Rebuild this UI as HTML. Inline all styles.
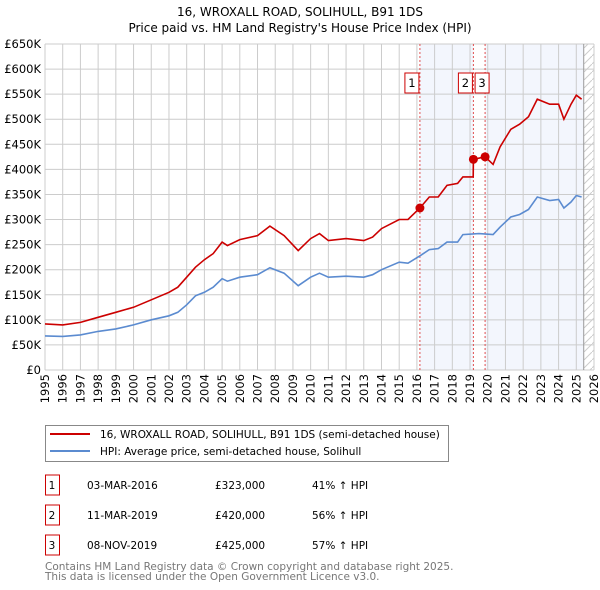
<!DOCTYPE html>
<html><head><meta charset="utf-8"><style>
body{margin:0;background:#fff;width:600px;height:590px;overflow:hidden;font-family:"DejaVu Sans","Liberation Sans",sans-serif;}
svg{position:absolute;left:0;top:0}
text{font-family:"DejaVu Sans","Liberation Sans",sans-serif;}
</style></head><body>
<svg id="c" width="600" height="590"></svg>
<script>
const hpiYears=[1995,1996,1997,1998,1999,2000,2001,2002,2002.5,2003,2003.5,2004,2004.5,2005,2005.3,2006,2007,2007.7,2008.5,2009.3,2010,2010.5,2011,2012,2013,2013.5,2014,2015,2015.5,2016.2,2016.7,2017.2,2017.7,2018.3,2018.6,2019.5,2020.3,2020.7,2021.3,2021.8,2022.3,2022.8,2023.5,2024,2024.3,2024.7,2025,2025.3];
const hpiValues=[68,67,70,77,82,90,100,108,115,130,148,155,165,182,177,185,190,204,193,168,185,193,185,187,185,190,200,215,213,228,240,242,255,255,270,272,270,285,305,310,320,345,338,340,323,335,348,345];
const propYears=[1995,1996,1997,1998,1999,2000,2001,2002,2002.5,2003,2003.5,2004,2004.5,2005,2005.3,2006,2007,2007.7,2008.5,2009.3,2010,2010.5,2011,2012,2013,2013.5,2014,2015,2015.5,2016.17,2016.7,2017.2,2017.7,2018.3,2018.6,2019.18,2019.19,2019.85,2020.3,2020.7,2021.3,2021.8,2022.3,2022.8,2023.5,2024,2024.3,2024.7,2025,2025.3];
const propValues=[92,90,95,105,115,125,140,155,165,185,205,220,232,255,248,260,268,287,268,238,262,272,258,262,258,265,282,300,300,323,345,345,368,372,385,385,420,425,410,445,480,490,505,540,530,530,500,530,548,540];
const saleYears=[2016.17,2019.19,2019.85];
const saleValues=[323,420,425];
const saleLabels=["1","2","3"];
const yTicks=[0,50,100,150,200,250,300,350,400,450,500,550,600,650];
const xTicks=[1995,1996,1997,1998,1999,2000,2001,2002,2003,2004,2005,2006,2007,2008,2009,2010,2011,2012,2013,2014,2015,2016,2017,2018,2019,2020,2021,2022,2023,2024,2025,2026];
const L=45,R=594,T=44,B=370;
const X=y=>L+(y-1995)*(R-L)/31;
const Y=v=>B-v*(B-T)/650;
const s=document.getElementById('c');const NS='http://www.w3.org/2000/svg';
function el(t,a,p){const e=document.createElementNS(NS,t);for(const k in a)e.setAttribute(k,a[k]);(p||s).appendChild(e);return e;}
let t=el('text',{x:300,y:16,'text-anchor':'middle','font-size':'12'});t.textContent='16, WROXALL ROAD, SOLIHULL, B91 1DS';

t=el('text',{x:300,y:32,'text-anchor':'middle','font-size':'12'});t.textContent="Price paid vs. HM Land Registry's House Price Index (HPI)";

const end=2025.42;
let r=el('rect',{x:X(saleYears[0]),y:T,width:X(saleYears[1])-X(saleYears[0]),height:B-T,fill:'#f3f6fd'});

r=el('rect',{x:X(saleYears[2]),y:T,width:X(end)-X(saleYears[2]),height:B-T,fill:'#f3f6fd'});

const defs=el('defs',{});const pat=el('pattern',{id:'h',width:8,height:8,patternUnits:'userSpaceOnUse'},defs);
el('path',{d:'M0,8 L8,0',stroke:'#ccc','stroke-width':1},pat);
r=el('rect',{x:X(end),y:T,width:R-X(end),height:B-T,fill:'url(#h)'});

yTicks.forEach(v=>{const g=el('line',{x1:L,x2:R,y1:Y(v),y2:Y(v),stroke:'#ccc'});

const tx=el('text',{x:L-4,y:Y(v)+4,'text-anchor':'end','font-size':'11.5'});tx.textContent='£'+(v?v+'K':'0');
});
xTicks.forEach(v=>{const g=el('line',{x1:X(v),x2:X(v),y1:T,y2:B,stroke:'#ccc'});

const tx=el('text',{x:0,y:0,'text-anchor':'end','font-size':'11.5',transform:`translate(${X(v)+4},374) rotate(-90)`});tx.textContent=v;
});
let ln=el('line',{x1:X(end),x2:X(end),y1:T,y2:B,stroke:'#999'});

saleYears.forEach((y,i)=>{const l=el('line',{x1:X(y),x2:X(y),y1:T,y2:B,stroke:'#e05050','stroke-dasharray':'2,2','stroke-width':1});

const bxl=i==2?X(y)-10:X(y)-15;
const rc=el('rect',{x:bxl,y:73,width:14,height:20,fill:'#fff',stroke:'#c00'});

const tx=el('text',{x:bxl+7,y:87,'text-anchor':'middle','font-size':'11.5'});tx.textContent=saleLabels[i];
});
function path(xs,vs,c,n){const d=xs.map((x,i)=>(i?'L':'M')+X(x).toFixed(1)+','+Y(vs[i]).toFixed(1)).join('');
const p=el('path',{d:d,fill:'none',stroke:c,'stroke-width':1.6});}
path(hpiYears,hpiValues,'#5b8bd0','hpi-line');
path(propYears,propValues,'#cc0000','price-line');
saleYears.forEach((y,i)=>{const c=el('circle',{cx:X(y),cy:Y(saleValues[i]),r:4.5,fill:'#cc0000'});
});
const lg=el('g',{});
el('rect',{x:45.5,y:425.5,width:403,height:36,fill:'#fff',stroke:'#888'},lg);
el('line',{x1:50,x2:90,y1:434,y2:434,stroke:'#cc0000','stroke-width':2},lg);
el('line',{x1:50,x2:90,y1:451,y2:451,stroke:'#5b8bd0','stroke-width':2},lg);
t=el('text',{x:100,y:438,'font-size':'10.5'},lg);t.textContent='16, WROXALL ROAD, SOLIHULL, B91 1DS (semi-detached house)';

t=el('text',{x:100,y:455,'font-size':'10.5'},lg);t.textContent='HPI: Average price, semi-detached house, Solihull';

const rows=[["1","03-MAR-2016","£323,000","41% ↑ HPI"],["2","11-MAR-2019","£420,000","56% ↑ HPI"],["3","08-NOV-2019","£425,000","57% ↑ HPI"]];
rows.forEach((rw,i)=>{const y=483+i*30;
const b=el('rect',{x:45.5,y:y-8,width:14,height:20,fill:'#fff',stroke:'#c00'});
[[52,'middle'],[87,'start'],[215,'start'],[312,'start']].forEach((c,j)=>{const tx=el('text',{x:c[0],y:y+6,'text-anchor':c[1],'font-size':'10.5'});tx.textContent=rw[j];
});});
t=el('text',{x:45,y:570,'font-size':'10.5',fill:'#777'});t.textContent='Contains HM Land Registry data © Crown copyright and database right 2025.';

t=el('text',{x:45,y:580,'font-size':'10.5',fill:'#777'});t.textContent='This data is licensed under the Open Government Licence v3.0.';

</script>
</body></html>
